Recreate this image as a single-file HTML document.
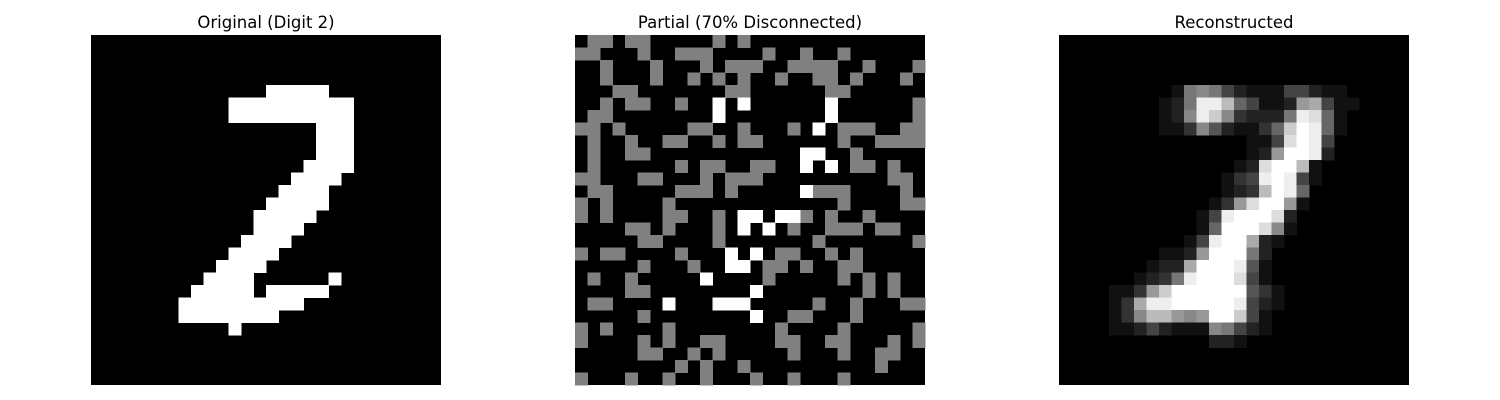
<!DOCTYPE html>
<html><head><meta charset="utf-8"><style>
html,body{margin:0;padding:0;background:#fff;width:1500px;height:400px;overflow:hidden}
svg{display:block}
text{font-family:"DejaVu Sans","Liberation Sans",sans-serif;font-size:16.5px;fill:#000}
</style></head><body>
<svg id="fig" width="1500" height="400" viewBox="0 0 1500 400" shape-rendering="crispEdges">
<text x="266" y="28" text-anchor="middle">Original (Digit 2)</text>
<text x="750" y="28" text-anchor="middle">Partial (70% Disconnected)</text>
<text x="1234" y="28" text-anchor="middle">Reconstructed</text>
<g id="p1"></g>
<g id="p2"></g>
<g id="p3"></g>
</svg>
<script>
const originalRuns = {
4:[[14,18]],5:[[11,20]],6:[[11,20]],7:[[18,20]],8:[[18,20]],9:[[18,20]],
10:[[17,20]],11:[[16,19]],12:[[15,18]],13:[[14,18]],14:[[13,17]],15:[[13,16]],
16:[[12,15]],17:[[11,14]],18:[[10,13]],19:[[9,12],[19,19]],20:[[8,12],[14,18]],
21:[[7,16]],22:[[7,14]],23:[[11,11]]
};
const partialGray = [
[1,2,4,5,11,13],
[0,1,5,8,9,10,15,18,21],
[2,6,10,12,13,14,17,18,19,20,23,27],
[2,6,9,11,13,16,19,20,22,26],
[3,4,12,13,20,21],
[2,4,5,8,27],
[1,2,27],
[0,1,3,9,10,13,17,21,22,23,26,27],
[1,4,7,8,11,13,14,21,24,25,26,27],
[1,4,5,22],
[1,8,10,11,14,15,22,23,25],
[0,1,5,6,10,12,13,14,25,26],
[1,2,8,9,10,12,19,20,21,26],
[0,2,7,21,26,27],
[0,2,7,8,11,18,20,23],
[4,5,7,11,17,20,21,22,24,25],
[5,6,11,19,27],
[0,2,3,8,16,17,20,22],
[5,9,15,16,18,21,22],
[1,4,15,21,23,25],
[4,5,23,25],
[1,2,19,22,26,27],
[5,17,18,22],
[0,2,7,16,21,27],
[0,5,7,10,11,16,17,20,21,25,27],
[5,6,9,11,17,21,24,25],
[8,10,13,24],
[0,4,7,10,14,17,21]
];
const partialWhite = {5:[11,13,20],6:[11,20],7:[19],9:[18,19],10:[18,20],12:[18],
14:[13,14,16,17],15:[13,15],17:[12,14],18:[12,13],19:[10],20:[14],21:[7,11,12,13],22:[14]};
const reconRows = [
"0000000000000000000000000000","0000000000000000000000000000","0000000000000000000000000000",
"0000000000000000000000000000",
"00000000"+"01787421114421100000",
"00000000"+"127eeb641129a4110000",
"00000000"+"128ec832227ed6100000",
"00000000"+"1138521136cfe6100000",
"00000000"+"0000000114dfe4000000",
"00000000"+"0000000129ffe2000000",
"00000000"+"00000012dffb10000000",
"00000000"+"00000134efe410000000",
"00000000"+"00000123bfe600000000",
"00000000"+"0000139dff9100000000",
"00000000"+"00014efffd2000000000",
"00000000"+"00016fffd81000000000",
"00000000"+"0014effa210000000000",
"00000000"+"1129fff7200000000000",
"0000000122afffe5100000000000",
"0000001237efffd4100000000000",
"00001139cffffff5310000000000",
"000013aeefffffe4210000000000",
"0000138bb989ffc4100000000000",
"0000112421118742100000000000",
"0000000000002210000000000000",
"0000000000000000000000000000","0000000000000000000000000000","0000000000000000000000000000"
];
const NS="http://www.w3.org/2000/svg";
const panelX=[91,575,1059], panelY=35, N=28, size=350, cell=size/N;
function cx(c,p){return panelX[p]+c*cell;}
function cy(r){return panelY+r*cell;}
function rect(g,x,y,w,h,fill,name){
  const e=document.createElementNS(NS,'rect');
  e.setAttribute('x',x);e.setAttribute('y',y);e.setAttribute('width',w+0.3);e.setAttribute('height',h+0.3);
  e.setAttribute('fill',fill);
  
  
  g.appendChild(e);
}
const g1=document.getElementById('p1'),g2=document.getElementById('p2'),g3=document.getElementById('p3');
[g1,g2,g3].forEach((g,p)=>rect(g,panelX[p],panelY,size-0.3,size-0.3,'#000','image-background'));
for(const r in originalRuns){for(const [a,b] of originalRuns[r]){rect(g1,cx(a,0),cy(+r),(b-a+1)*cell,cell,'#fff','pixel-run');}}
partialGray.forEach((row,r)=>row.forEach(c=>rect(g2,cx(c,1),cy(r),cell,cell,'#808080','pixel-gray')));
for(const r in partialWhite){partialWhite[r].forEach(c=>rect(g2,cx(c,1),cy(+r),cell,cell,'#fff','pixel-white'));}
reconRows.forEach((row,r)=>{for(let c=0;c<N;c++){const v=parseInt(row[c],16)*17;if(v>0){rect(g3,cx(c,2),cy(r),cell,cell,`rgb(${v},${v},${v})`,'pixel');}}});
</script>
</body></html>
